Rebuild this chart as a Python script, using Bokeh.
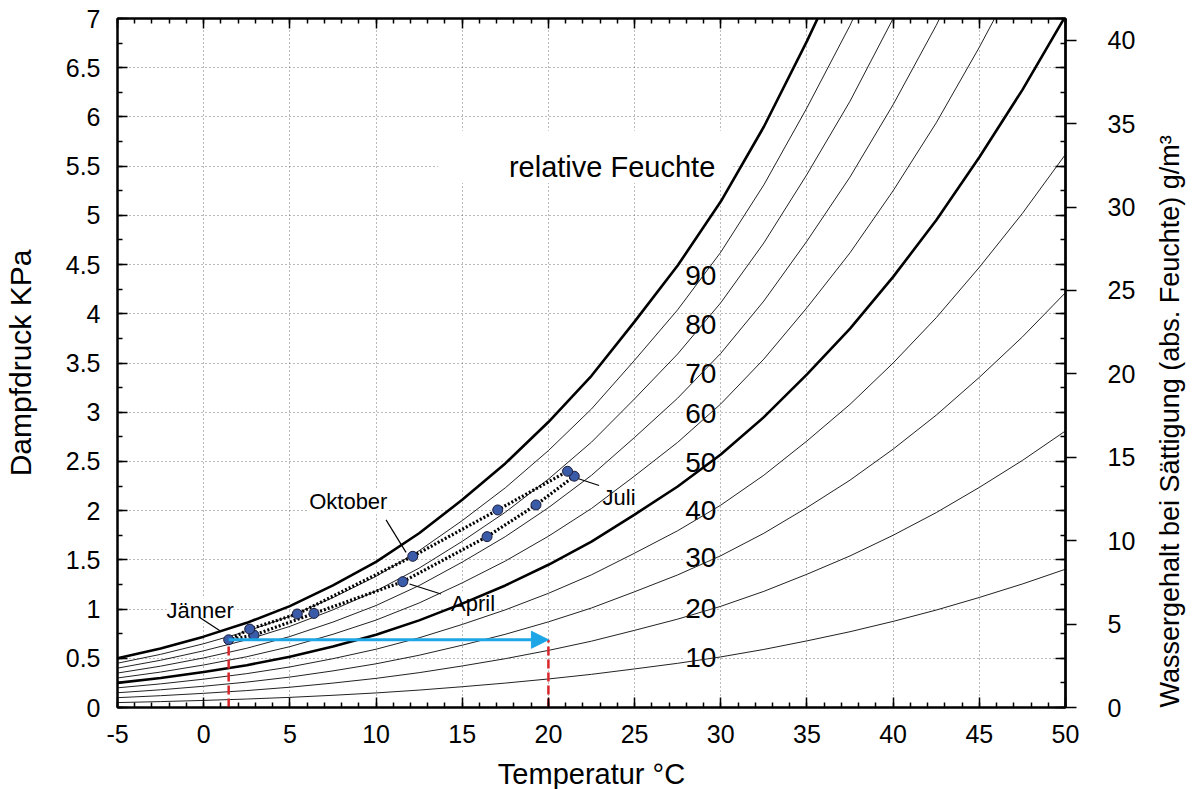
import math
from bokeh.plotting import figure
from bokeh.models import (Range1d, LinearAxis, SingleIntervalTicker, Label, BoxAnnotation,
                          Arrow, NormalHead, Title)
from bokeh.embed import file_html
from bokeh.resources import INLINE

FONT = "Liberation Sans"

# ---- data ----
# temperature grid (°C) and vapour pressure of the 100 % curve (kPa)
temp_grid = [-5, -2.5, 0, 2.5, 5, 7.5, 10, 12.5, 15, 17.5, 20, 22.5, 25, 27.5, 30,
             32.5, 35, 37.5, 40, 42.5, 45, 47.5, 50]
sat_kpa = [0.50, 0.60, 0.72, 0.86, 1.03, 1.24, 1.48, 1.77, 2.11, 2.48, 2.90, 3.37, 3.92,
           4.49, 5.14, 5.90, 6.77, 7.70, 8.75, 9.90, 11.18, 12.55, 14.05]
rh_levels = [100, 90, 80, 70, 60, 50, 40, 30, 20, 10]
thick_levels = [100, 50]

# monthly points (Jan..Dec), closed loop
months = ["Jan", "Feb", "Mar", "Apr", "May", "Jun", "Jul", "Aug", "Sep", "Oct", "Nov", "Dec"]
month_temp = [1.45, 2.92, 6.40, 11.55, 16.44, 19.28, 21.50, 21.11, 17.06, 12.13, 5.43, 2.67]
month_kpa = [0.688, 0.736, 0.956, 1.278, 1.736, 2.058, 2.350, 2.400, 2.007, 1.536, 0.950, 0.797]

# heating example: January air heated to 20 °C
heat_target_temp = 20

# labels of the relative humidity curves
rh_label_text = ["90", "80", "70", "60", "50", "40", "30", "20", "10"]
rh_label_kpa = [4.39, 3.89, 3.39, 2.99, 2.49, 2.00, 1.52, 1.01, 0.51]
rh_label_temp = 28.84

# month annotations: text, text position, leader start, leader end
ann_text = ["Jänner", "Oktober", "April", "Juli"]
ann_temp = [-2.16, 6.12, 14.35, 23.14]
ann_kpa = [0.983, 2.09, 1.055, 2.13]
lead_t0 = [-0.23, 10.58, 11.94, 21.49]
lead_p0 = [0.915, 1.906, 1.255, 2.339]
lead_t1 = [1.01, 11.74, 13.77, 22.94]
lead_p1 = [0.773, 1.576, 1.153, 2.255]

title_text = "relative Feuchte"
title_temp, title_kpa = 17.71, 5.49
title_box = dict(left=13.6, right=30.6, bottom=5.33, top=5.86)

right_title = "Wassergehalt bei Sättigung (abs. Feuchte) g/m³"

x_ticks = list(range(-5, 51, 5))
y_ticks = [i * 0.5 for i in range(15)]
abs_ticks = list(range(0, 41, 5))
abs_max = 41.3   # g/m3 at 7 kPa

# ---- figure ----
p = figure(frame_width=948, frame_height=689, x_range=Range1d(-5, 50), y_range=Range1d(0, 7),
           output_backend="svg", toolbar_location=None,
           min_border_left=116, min_border_right=136, min_border_top=18, min_border_bottom=82)
p.extra_y_ranges = {"abs": Range1d(0, abs_max)}
p.outline_line_color = "black"
p.outline_line_width = 2
p.background_fill_color = "white"

xt = SingleIntervalTicker(interval=5, num_minor_ticks=5)
yt = SingleIntervalTicker(interval=0.5, num_minor_ticks=2)

xa = p.xaxis[0]
xa.ticker = xt
xa.major_label_overrides = {t: str(t) for t in x_ticks}
ya = p.yaxis[0]
ya.ticker = yt
ya.major_label_overrides = {t: f"{t:g}" for t in y_ticks}

for ax in (xa, ya):
    ax.axis_line_width = 2
    ax.major_tick_in = 10
    ax.major_tick_out = 0
    ax.minor_tick_in = 5
    ax.minor_tick_out = 0
    ax.major_tick_line_width = 1.5
    ax.minor_tick_line_width = 1.5
    ax.major_label_text_font = FONT
    ax.major_label_text_font_size = "25px"
    ax.major_label_text_color = "black"
    ax.axis_label_text_font = FONT
    ax.axis_label_text_font_style = "normal"
    ax.axis_label_text_color = "black"

xa.axis_label = "Temperatur °C"
xa.axis_label_text_font_size = "29px"
xa.major_label_standoff = 17
xa.axis_label_standoff = 12
ya.axis_label = "Dampfdruck KPa"
ya.axis_label_text_font_size = "30px"
ya.major_label_standoff = 17
ya.axis_label_standoff = 26

# mirror ticks (top and right), without labels
mirror_kw = dict(major_label_text_font_size="1px", major_label_text_color=None,
                 major_label_standoff=0, axis_line_width=2, major_tick_in=10,
                 major_tick_out=0, minor_tick_in=5, minor_tick_out=0,
                 major_tick_line_width=1.5, minor_tick_line_width=1.5)
p.add_layout(LinearAxis(ticker=xt, **mirror_kw), "above")
p.add_layout(LinearAxis(ticker=yt, **mirror_kw), "right")

abs_ax = LinearAxis(y_range_name="abs", ticker=SingleIntervalTicker(interval=5, num_minor_ticks=0),
                    axis_line_width=2, major_tick_in=0, major_tick_out=11,
                    major_tick_line_width=1.5, minor_tick_line_color=None,
                    major_label_text_font=FONT, major_label_text_font_size="25px",
                    major_label_text_color="black", major_label_standoff=31,
                    major_label_overrides={t: str(t) for t in abs_ticks})
p.add_layout(abs_ax, "right")

try:
    abs_ax.axis_label = right_title
    abs_ax.axis_label_text_font = FONT
    abs_ax.axis_label_text_font_size = "27px"
    abs_ax.axis_label_text_font_style = "normal"
    abs_ax.axis_label_text_color = "black"
    abs_ax.axis_label_standoff = 32
    abs_ax.axis_label_orientation = math.pi / 2
except Exception:
    abs_ax.axis_label = None
    p.add_layout(Title(text=right_title, align="center", text_font=FONT,
                       text_font_size="27px", text_font_style="normal"), "right")
try:
    abs_ax.axis_label_align = "start"
except Exception:
    pass

# grid
p.xgrid.ticker = xt
p.ygrid.ticker = yt
p.grid.grid_line_color = "#777777"
p.grid.grid_line_dash = "1 3"
p.grid.grid_line_width = 1

# white box behind the title text
p.add_layout(BoxAnnotation(left=title_box["left"], right=title_box["right"],
                           bottom=title_box["bottom"], top=title_box["top"],
                           fill_color="white", fill_alpha=1, line_color=None, level="underlay"))

# relative humidity curves
for rh in rh_levels:
    ys = [rh / 100 * s for s in sat_kpa]
    thick = rh in thick_levels
    p.line(temp_grid, ys, line_color="black" if thick else "#222222",
           line_width=2.6 if thick else 1.0)

# labels of the curves
for txt, yk in zip(rh_label_text, rh_label_kpa):
    p.add_layout(Label(x=rh_label_temp, y=yk, text=txt, text_font=FONT, text_font_size="28px",
                       text_align="center", text_baseline="middle", text_color="black",
                       background_fill_color="white", level="underlay"))

p.add_layout(Label(x=title_temp, y=title_kpa, text=title_text, text_font=FONT,
                   text_font_size="29px", text_align="left", text_baseline="alphabetic",
                   text_color="black"))

# month annotations
for txt, tx, ty in zip(ann_text, ann_temp, ann_kpa):
    p.add_layout(Label(x=tx, y=ty, text=txt, text_font=FONT, text_font_size="22px",
                       text_align="left", text_baseline="alphabetic", text_color="black",
                       background_fill_color="white", level="underlay"))
p.segment(x0=lead_t0, y0=lead_p0, x1=lead_t1, y1=lead_p1, line_color="black", line_width=1.2)

# heating: red verticals and blue arrow
jan_t, jan_p = month_temp[0], month_kpa[0]
p.segment(x0=[jan_t, heat_target_temp], y0=[0, 0], x1=[jan_t, heat_target_temp],
          y1=[jan_p, jan_p], line_color="#D9262B", line_width=2.5, line_dash="9 4")
p.add_layout(Arrow(x_start=jan_t, y_start=jan_p, x_end=heat_target_temp, y_end=jan_p,
                   line_color="#1CA6E6", line_width=3,
                   end=NormalHead(size=17, fill_color="#1CA6E6", line_color="#1CA6E6")))

# monthly loop
loop_t = month_temp + [month_temp[0]]
loop_p = month_kpa + [month_kpa[0]]
p.line(loop_t, loop_p, line_color="black", line_width=3.2, line_dash="2 2")
p.scatter(month_temp, month_kpa, size=10, marker="circle", fill_color="#3A5BA8",
          line_color="#1B1B3A", line_width=1)

open("out.html", "w").write(file_html(p, INLINE))
